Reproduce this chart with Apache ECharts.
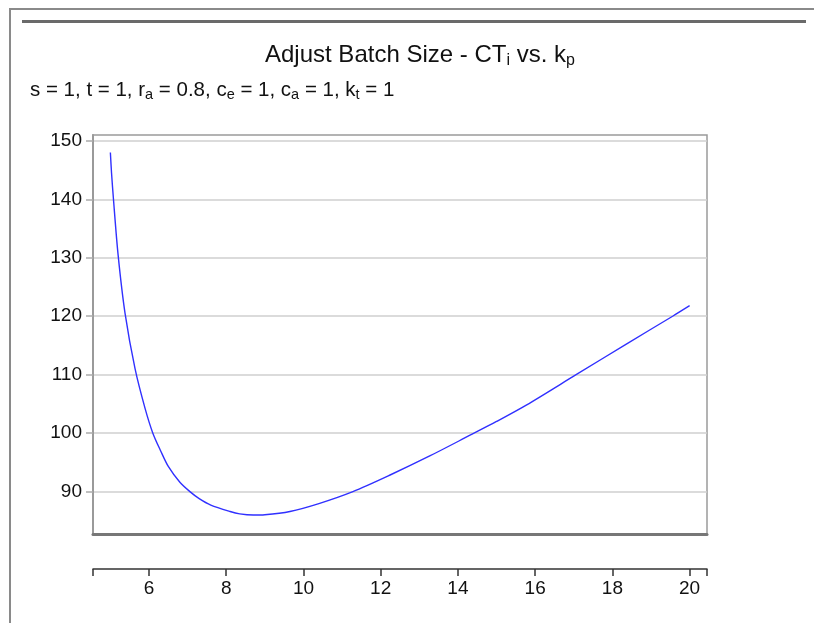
<!DOCTYPE html>
<html>
<head>
<meta charset="utf-8">
<script src="https://cdn.jsdelivr.net/npm/echarts@6/dist/echarts.min.js"></script>
<style>
  html, body { margin: 0; padding: 0; background: #fff; }
  #wrap { position: relative; width: 814px; height: 623px; overflow: hidden; }
  #frame { position: absolute; left: 9px; top: 8px; width: 830px; height: 640px; border-left: 2px solid #8a8a8a; border-top: 2px solid #8a8a8a; box-sizing: border-box; }
  #rule { position: absolute; left: 22px; top: 20px; width: 784px; height: 3px; background: #6a6a6a; }
  #chart { position: absolute; left: 0; top: 0; width: 814px; height: 623px; }
</style>
</head>
<body>
<div id="wrap">
  <div id="frame"></div>
  <div id="rule"></div>
  <div id="chart"></div>
</div>
<script>
// k_p values (x) and CT_i values (y)
const kValues  = [5.0, 5.03, 5.08, 5.2, 5.38, 5.64, 5.9, 6.1, 6.3, 6.5, 6.8, 7.06, 7.3, 7.6, 8.1, 8.35, 8.7, 9.0, 9.65, 10.42, 11.28, 12.23, 13.27, 14.3, 15.0, 15.77, 17.06, 18.35, 19.56, 20.0];
const ctValues = [148.0, 144.5, 140.0, 130.5, 120.5, 111.0, 104.2, 100.0, 97.0, 94.3, 91.6, 90.0, 88.8, 87.7, 86.6, 86.2, 86.0, 86.05, 86.6, 88.0, 90.0, 92.8, 96.1, 99.6, 102.0, 104.8, 110.0, 115.2, 120.0, 121.8];

const xTickLabels = [6, 8, 10, 12, 14, 16, 18, 20];
const yTickLabels = [90, 100, 110, 120, 130, 140, 150];
const xMin = 4.55, xMax = 20.45;
const yMin = 82.75, yMax = 151;

const font = "'Liberation Sans', Arial, Helvetica, sans-serif";
const chart = echarts.init(document.getElementById('chart'), null, { renderer: 'canvas' });

const seriesData = kValues.map((k, i) => [k, ctValues[i]]);

chart.setOption({
  animation: false,
  backgroundColor: 'transparent',
  title: [
    {
      text: '{a|Adjust Batch Size - CT}{s|i}{a| vs. k}{s|p}',
      left: 260, top: 36,
      textStyle: {
        fontWeight: 'normal',
        rich: {
          a: { fontFamily: font, fontSize: 24, fontWeight: 'normal', color: '#111' },
          s: { fontFamily: font, fontSize: 16, fontWeight: 'normal', color: '#111', padding: [12, 0, 0, 0] }
        }
      }
    },
    {
      text: '{a|s = 1, t = 1, r}{s|a}{a| = 0.8, c}{s|e}{a| = 1, c}{s|a}{a| = 1, k}{s|t}{a| = 1}',
      left: 25, top: 73,
      textStyle: {
        fontWeight: 'normal',
        rich: {
          a: { fontFamily: font, fontSize: 20.5, fontWeight: 'normal', color: '#111' },
          s: { fontFamily: font, fontSize: 14.5, fontWeight: 'normal', color: '#111', padding: [9, 0, 0, 0] }
        }
      }
    }
  ],
  grid: {
    left: 93, right: 107, top: 135, bottom: 89,
    show: true, borderColor: '#9a9a9a', borderWidth: 1.5, backgroundColor: '#fff'
  },
  xAxis: [
    {
      type: 'value', min: xMin, max: xMax, position: 'bottom', offset: 35,
      axisLine: { show: true, onZero: false, lineStyle: { color: '#333', width: 1.5 } },
      axisTick: { show: true, length: 7, customValues: [xMin].concat(xTickLabels, [xMax]), lineStyle: { color: '#333', width: 1.5 } },
      axisLabel: { customValues: xTickLabels, fontFamily: font, fontSize: 19, color: '#111', margin: 10 },
      splitLine: { show: false }
    },
    {
      type: 'value', min: xMin, max: xMax, position: 'bottom', offset: 0, gridIndex: 0,
      axisLine: { show: true, onZero: false, lineStyle: { color: '#777', width: 3 } },
      axisTick: { show: false }, axisLabel: { show: false }, splitLine: { show: false }
    }
  ],
  yAxis: {
    type: 'value', min: yMin, max: yMax,
    axisLine: { show: true, lineStyle: { color: '#9a9a9a', width: 2 } },
    axisTick: { show: true, length: 7, customValues: yTickLabels, lineStyle: { color: '#aaa', width: 1.5 } },
    axisLabel: { customValues: yTickLabels, fontFamily: font, fontSize: 19, color: '#111', margin: 11 },
    splitLine: { show: true, lineStyle: { color: '#cfcfcf', width: 1.5 } }
  },
  series: [{
    type: 'line',
    xAxisIndex: 0,
    data: seriesData,
    smooth: 0.3,
    showSymbol: false,
    lineStyle: { color: '#3030ff', width: 1.4 }
  }]
});
</script>
</body>
</html>
